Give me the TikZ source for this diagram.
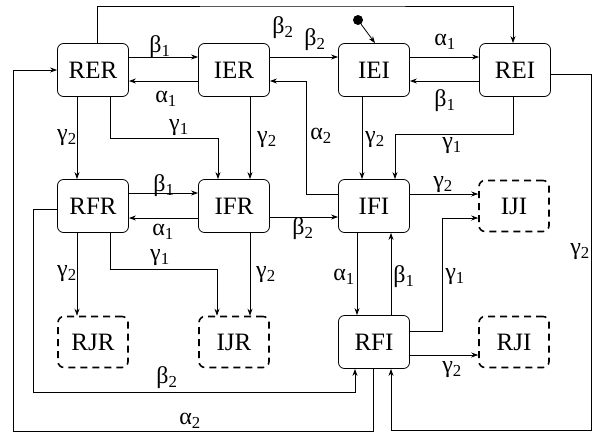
\documentclass[tikz,border=0pt]{standalone}
\usepackage{fontspec}
\setmainfont{Liberation Serif}
\usetikzlibrary{arrows.meta}
\newcommand\gsub[2]{#1\textsubscript{#2}}
\begin{document}
\begin{tikzpicture}[x=1pt,y=-1pt,
  font=\fontsize{25}{29}\selectfont,
  state/.style={draw, line width=0.8pt, rounded corners=6pt, minimum width=71pt, minimum height=53pt, inner sep=0pt},
  jstate/.style={draw, line width=1.6pt, dash pattern=on 7pt off 5pt, rounded corners=6pt, minimum width=70pt, minimum height=51pt, inner sep=0pt},
  arr/.style={draw, line width=0.8pt, -{Stealth[length=7pt,width=5pt]}},
  lab/.style={inner sep=0pt, font=\fontsize{24}{28}\selectfont}]
\useasboundingbox (0,0) rectangle (595,437);
% states
\node[state] (RER) at (93,70) {RER};
\node[state] (IER) at (234,70) {IER};
\node[state] (IEI) at (374,70) {IEI};
\node[state] (REI) at (515,70) {REI};
\node[state] (RFR) at (93,206) {RFR};
\node[state] (IFR) at (234,206) {IFR};
\node[state] (IFI) at (374,206) {IFI};
\node[jstate] (IJI) at (514,206) {IJI};
\node[jstate] (RJR) at (93,342) {RJR};
\node[jstate] (IJR) at (234,342) {IJR};
\node[state] (RFI) at (374,342) {RFI};
\node[jstate] (RJI) at (514,342) {RJI};
% initial
\node[circle, fill, inner sep=0pt, minimum size=10pt] (init) at (358,20) {};
\draw[arr] (init) -- ([xshift=1pt]IEI.north);
% corner coordinates
\coordinate (ctop) at (300,6);
\coordinate (cright) at (591,430);
\coordinate (cb2) at (33,392);
\coordinate (ca2) at (13,431);
% top row
\draw[arr] ([yshift=13pt]RER.east) -- ([yshift=13pt]IER.west);
\draw[arr] ([yshift=-11pt]IER.west) -- ([yshift=-11pt]RER.east);
\draw[arr] ([yshift=13pt]IER.east) -- ([yshift=13pt]IEI.west);
\draw[arr] ([yshift=13pt]IEI.east) -- ([yshift=13pt]REI.west);
\draw[arr] ([yshift=-11pt]REI.west) -- ([yshift=-11pt]IEI.east);
\draw[arr] ([xshift=4pt]RER.north) |- (ctop) -| ([xshift=-2pt]REI.north);
\draw[arr] ([yshift=12pt]IFI.west) -- ++(-32,0) |- ([yshift=-11pt]IER.east);
% top to middle
\draw[arr] ([xshift=-16pt]RER.south) -- ([xshift=-16pt]RFR.north);
\draw[arr] ([xshift=17pt]RER.south) -- ++(0,41) -| ([xshift=-16pt]IFR.north);
\draw[arr] ([xshift=16pt]IER.south) -- ([xshift=16pt]IFR.north);
\draw[arr] ([xshift=-12pt]IEI.south) -- ([xshift=-12pt]IFI.north);
\draw[arr] ([xshift=-2pt]REI.south) -- ++(0,37) -| ([xshift=21pt]IFI.north);
\draw[arr] ([yshift=-4pt]REI.east) -| (cright) -| ([xshift=17pt]RFI.south);
% middle row
\draw[arr] ([yshift=13pt]RFR.east) -- ([yshift=13pt]IFR.west);
\draw[arr] ([yshift=-12pt]IFR.west) -- ([yshift=-12pt]RFR.east);
\draw[arr] ([yshift=-11pt]IFR.east) -- ([yshift=-11pt]IFI.west);
\draw[arr] ([yshift=12pt]IFI.east) -- ([yshift=12pt]IJI.west);
% middle to bottom
\draw[arr] ([xshift=-16pt]RFR.south) -- ([xshift=-16pt]RJR.north);
\draw[arr] ([xshift=17pt]RFR.south) -- ++(0,36) -| ([xshift=-17pt]IJR.north);
\draw[arr] ([xshift=16pt]IFR.south) -- ([xshift=16pt]IJR.north);
\draw[arr] ([xshift=-17pt]IFI.south) -- ([xshift=-17pt]RFI.north);
\draw[arr] ([xshift=17pt]RFI.north) -- ([xshift=17pt]IFI.south);
\draw[arr] ([yshift=11pt]RFI.east) -- ++(32,0) |- ([yshift=-12pt]IJI.west);
\draw[arr] ([yshift=-13pt]RFI.east) -- ([yshift=-13pt]RJI.west);
% long loops
\draw[arr] ([yshift=-3pt]RFR.west) -| (cb2) -| ([xshift=-19pt]RFI.south);
\draw[arr] ([xshift=-1pt]RFI.south) |- (ca2) |- (RER.west);
% labels
\node[lab] (l1) at (283,28) {\gsub{β}{2}};
\node[lab] (l2) at (160,47) {\gsub{β}{1}};
\node[lab] (l3) at (166,99) {\gsub{α}{1}};
\node[lab] (l4) at (315,40) {\gsub{β}{2}};
\node[lab] (l5) at (321,136) {\gsub{α}{2}};
\node[lab] (l6) at (445,42) {\gsub{α}{1}};
\node[lab] (l7) at (445,101) {\gsub{β}{1}};
\node[lab] (l8) at (375,140) {\gsub{γ}{2}};
\node[lab] (l9) at (452,146) {\gsub{γ}{1}};
\node[lab] (l10) at (580,252) {\gsub{γ}{2}};
\node[lab] (l11) at (67,138) {\gsub{γ}{2}};
\node[lab] (l12) at (179,128) {\gsub{γ}{1}};
\node[lab] (l13) at (267,140) {\gsub{γ}{2}};
\node[lab] (l14) at (164,186) {\gsub{β}{1}};
\node[lab] (l15) at (163,232) {\gsub{α}{1}};
\node[lab] (l16) at (303,229) {\gsub{β}{2}};
\node[lab] (l17) at (67,274) {\gsub{γ}{2}};
\node[lab] (l18) at (160,258) {\gsub{γ}{1}};
\node[lab] (l19) at (266,275) {\gsub{γ}{2}};
\node[lab] (l20) at (167,378) {\gsub{β}{2}};
\node[lab] (l21) at (190,421) {\gsub{α}{2}};
\node[lab] (l22) at (344,277) {\gsub{α}{1}};
\node[lab] (l23) at (404,277) {\gsub{β}{1}};
\node[lab] (l24) at (455,277) {\gsub{γ}{1}};
\node[lab] (l25) at (443,185) {\gsub{γ}{2}};
\node[lab] (l26) at (452,370) {\gsub{γ}{2}};
\end{tikzpicture}
\end{document}
